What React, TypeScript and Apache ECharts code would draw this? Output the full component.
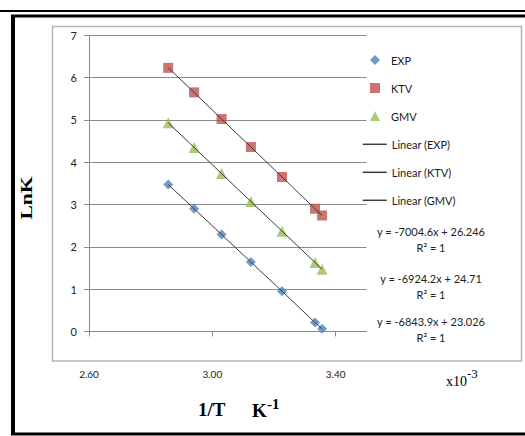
import { useEffect, useRef } from "react";
import * as echarts from "echarts";

// 1/T in units of 10^-3 K^-1 (T = 350, 340, 330, 320, 310, 300, 298 K)
const invT = [2.857, 2.941, 3.03, 3.125, 3.226, 3.333, 3.356];
// ln K for each model
const lnkEXP = [3.47, 2.9, 2.29, 1.64, 0.95, 0.21, 0.06];
const lnkKTV = [6.23, 5.65, 5.02, 4.36, 3.65, 2.9, 2.74];
const lnkGMV = [4.93, 4.35, 3.73, 3.07, 2.37, 1.63, 1.47];

const xTickValues = [2.6, 3.0, 3.4];
const seriesNames = ["EXP", "KTV", "GMV"];
const trendNames = ["Linear (EXP)", "Linear (KTV)", "Linear (GMV)"];
// fit equations, listed top to bottom (KTV, GMV, EXP lines)
const fitEquations = ["y = -7004.6x + 26.246", "y = -6924.2x + 24.71", "y = -6843.9x + 23.026"];
const fitR2 = ["R² = 1", "R² = 1", "R² = 1"];

const pairs = (ys: number[]) => invT.map((x, i) => [x, ys[i]]);

const SANS = "Lato, 'Open Sans', sans-serif";
const SERIF = "'Liberation Serif', 'DejaVu Serif', serif";

export default function App() {
  const ref = useRef<HTMLDivElement>(null);

  useEffect(() => {
    if (!ref.current) return;
    const chart = echarts.init(ref.current, undefined, { renderer: "svg" });

    const markerColors = ["#4F81BD", "#C0504D", "#9BBB59"];
    const markerSymbols = ["diamond", "rect", "triangle"];
    const markerSizes = [10, 10, 11];
    const dataSets = [lnkEXP, lnkKTV, lnkGMV];

    const scatterSeries = seriesNames.map((name, i) => ({
      name,
      type: "scatter",
      data: pairs(dataSets[i]),
      symbol: markerSymbols[i],
      symbolSize: markerSizes[i],
      itemStyle: { color: markerColors[i] },
      z: 2,
    }));

    const trendSeries = trendNames.map((name, i) => ({
      name,
      type: "line",
      data: pairs(dataSets[i]),
      symbol: "none",
      lineStyle: { color: "#3a3a3a", width: 1 },
      itemStyle: { color: "#3a3a3a" },
      z: 3,
    }));

    const eqY = [231, 278, 321];
    const eqTexts: any[] = [];
    fitEquations.forEach((eq, i) => {
      eqTexts.push({
        type: "text",
        x: 431,
        y: eqY[i],
        style: { text: eq, font: `11px ${SANS}`, fill: "#222", align: "center", verticalAlign: "middle" },
      });
      eqTexts.push({
        type: "text",
        x: 431,
        y: eqY[i] + 16,
        style: { text: fitR2[i], font: `11px ${SANS}`, fill: "#222", align: "center", verticalAlign: "middle" },
      });
    });

    chart.setOption({
      animation: false,
      backgroundColor: "#ffffff",
      grid: { left: 89, top: 35.3, right: 158.5, bottom: 104.6, containLabel: false },
      xAxis: {
        type: "value",
        min: 2.6,
        max: 3.5,
        splitLine: { show: false },
        axisLine: { show: true, lineStyle: { color: "#8a8a8a", width: 1 } },
        axisTick: { show: true, length: 5, customValues: xTickValues, lineStyle: { color: "#8a8a8a" } },
        axisLabel: {
          customValues: xTickValues,
          margin: 38,
          color: "#222",
          fontFamily: SANS,
          fontSize: 10,
          formatter: (v: number) => v.toFixed(2),
        },
      },
      yAxis: {
        type: "value",
        min: 0,
        max: 7,
        interval: 1,
        splitLine: { show: true, lineStyle: { color: "#8a8a8a", width: 1 } },
        axisLine: { show: true, lineStyle: { color: "#8a8a8a", width: 1 } },
        axisTick: { show: true, length: 5, lineStyle: { color: "#8a8a8a" } },
        axisLabel: { margin: 12, color: "#222", fontFamily: SANS, fontSize: 11 },
      },
      legend: [
        {
          // marker entries
          orient: "vertical",
          left: 370,
          top: 54.5,
          padding: 0,
          itemWidth: 10,
          itemHeight: 10,
          itemGap: 17,
          textStyle: { fontFamily: SANS, fontSize: 11, color: "#1a1a1a", padding: [0, 0, 0, 6] },
          data: seriesNames,
        },
        {
          // trendline entries
          orient: "vertical",
          left: 362,
          top: 138.8,
          padding: 0,
          itemWidth: 24,
          itemHeight: 10,
          itemGap: 17,
          itemStyle: { color: "rgba(0,0,0,0)", borderWidth: 0, opacity: 0 },
          lineStyle: { color: "#3a3a3a", width: 1.5 },
          textStyle: { fontFamily: SANS, fontSize: 11, color: "#1a1a1a" },
          data: trendNames,
        },
      ],
      series: [...scatterSeries, ...trendSeries],
      graphic: [
        // outer black frame
        { type: "line", shape: { x1: 0, y1: 11, x2: 525, y2: 11 }, style: { stroke: "#000", lineWidth: 2 } },
        { type: "line", shape: { x1: 11, y1: 16, x2: 525, y2: 16 }, style: { stroke: "#000", lineWidth: 3 } },
        { type: "line", shape: { x1: 13, y1: 15, x2: 13, y2: 435 }, style: { stroke: "#000", lineWidth: 4 } },
        { type: "line", shape: { x1: 11, y1: 434, x2: 525, y2: 434 }, style: { stroke: "#000", lineWidth: 3 } },
        // chart area frame
        {
          type: "rect",
          shape: { x: 52.5, y: 26.5, width: 469, height: 334.5 },
          style: { fill: "none", stroke: "#b4b4b4", lineWidth: 1.5 },
          z: -1,
        },
        // axis titles
        {
          type: "text",
          x: 27,
          y: 198,
          rotation: Math.PI / 2,
          scaleX: 1.35,
          style: { text: "LnK", font: `bold 16px ${SERIF}`, fill: "#000", align: "center", verticalAlign: "middle" },
        },
        {
          type: "text",
          x: 198,
          y: 419,
          style: { text: "1/T", font: `bold 19px ${SERIF}`, fill: "#000", align: "left", verticalAlign: "bottom" },
        },
        {
          type: "text",
          x: 252,
          y: 420,
          style: { text: "K", font: `bold 19px ${SERIF}`, fill: "#000", align: "left", verticalAlign: "bottom" },
        },
        {
          type: "text",
          x: 267,
          y: 411,
          style: { text: "-1", font: `bold 15px ${SERIF}`, fill: "#000", align: "left", verticalAlign: "bottom" },
        },
        {
          type: "text",
          x: 446,
          y: 388,
          style: { text: "x10", font: `14px ${SERIF}`, fill: "#000", align: "left", verticalAlign: "bottom" },
        },
        {
          type: "text",
          x: 467,
          y: 380,
          style: { text: "-3", font: `13px ${SERIF}`, fill: "#000", align: "left", verticalAlign: "bottom" },
        },
        ...eqTexts,
      ],
    });

    return () => chart.dispose();
  }, []);

  return (
    <div
      ref={ref}
      style={{ position: "absolute", left: 0, top: 0, width: 525, height: 436, background: "#fff" }}
    />
  );
}
